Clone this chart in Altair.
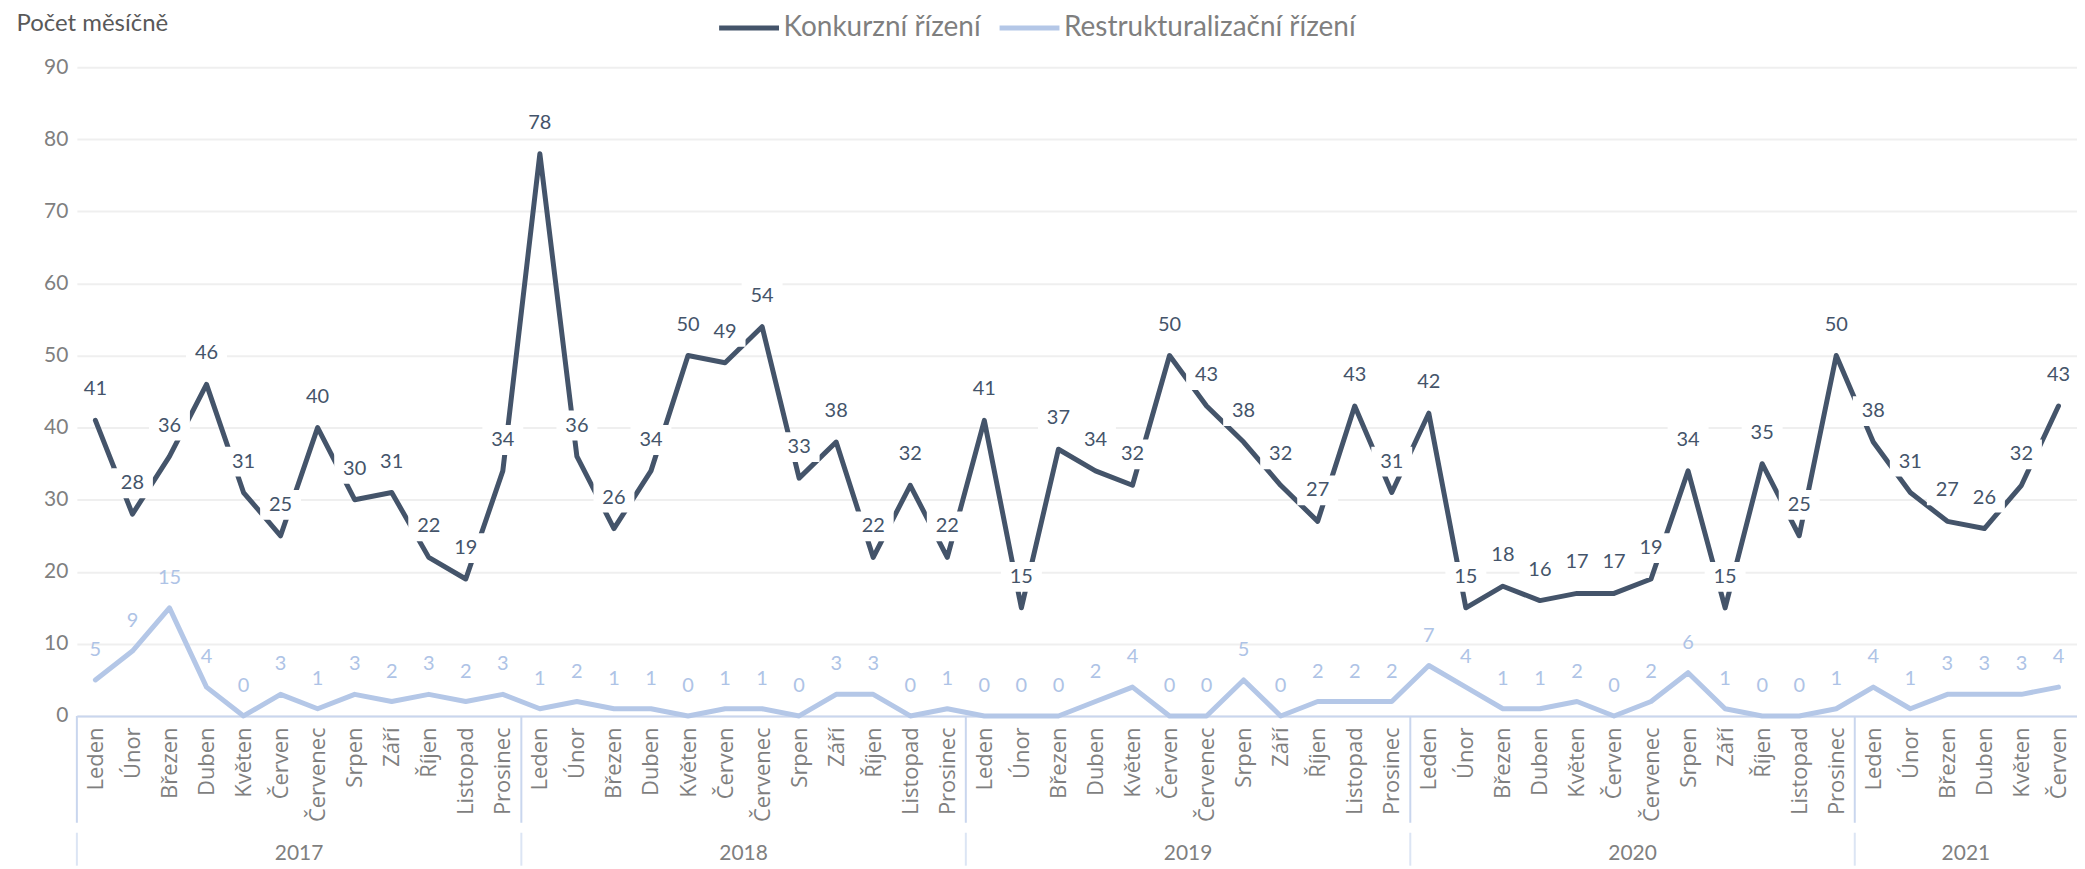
import altair as alt
import pandas as pd

months = ["Leden", "Únor", "Březen", "Duben", "Květen", "Červen",
          "Červenec", "Srpen", "Září", "Říjen", "Listopad", "Prosinec"]
years = [2017, 2018, 2019, 2020, 2021]
months_per_year = [12, 12, 12, 12, 6]

konkurz = [41, 28, 36, 46, 31, 25, 40, 30, 31, 22, 19, 34,
           78, 36, 26, 34, 50, 49, 54, 33, 38, 22, 32, 22,
           41, 15, 37, 34, 32, 50, 43, 38, 32, 27, 43, 31,
           42, 15, 18, 16, 17, 17, 19, 34, 15, 35, 25, 50,
           38, 31, 27, 26, 32, 43]
restruk = [5, 9, 15, 4, 0, 3, 1, 3, 2, 3, 2, 3,
           1, 2, 1, 1, 0, 1, 1, 0, 3, 3, 0, 1,
           0, 0, 0, 2, 4, 0, 0, 5, 0, 2, 2, 2,
           7, 4, 1, 1, 2, 0, 2, 6, 1, 0, 0, 1,
           4, 1, 3, 3, 3, 4]

S1 = "Konkurzní řízení"
S2 = "Restrukturalizační řízení"
DARK = "#44546A"
LIGHT = "#B4C7E7"
GRAY = "#7F7F7F"

n = len(konkurz)
rows = []
for i in range(n):
    rows.append({"idx": i, "series": S1, "value": konkurz[i]})
    rows.append({"idx": i, "series": S2, "value": restruk[i]})
df = pd.DataFrame(rows)

# year blocks
yrows = []
bounds = []
start = 0
for y, m in zip(years, months_per_year):
    yrows.append({"year": str(y), "mid": start + (m - 1) / 2})
    bounds.append({"b": start - 0.5})
    start += m
ydf = pd.DataFrame(yrows)
bdf = pd.DataFrame(bounds)

W, H = 2004, 650

month_js = "[" + ",".join("'" + m + "'" for m in months) + "]"

xscale = alt.Scale(domain=[-0.5, n - 0.5], nice=False, zero=False)
yscale = alt.Scale(domain=[0, 90], nice=False)
cscale = alt.Scale(domain=[S1, S2], range=[DARK, LIGHT])

x_axis = alt.Axis(values=list(range(n)), labelExpr=month_js + "[datum.value % 12]",
                  labelAngle=-90, labelAlign="right", labelBaseline="middle",
                  labelPadding=11, ticks=False, grid=False, domainColor="#C9D6EE",
                  domainWidth=2, labelFont="Open Sans", labelFontSize=22,
                  labelColor=GRAY, title=None, labelOverlap=False, labelFlush=False,
                  labelBound=False)
y_axis = alt.Axis(values=list(range(0, 91, 10)), gridColor="#EFEFEF", gridWidth=2,
                  domain=False, ticks=False, labelFont="Lato", labelFontSize=21,
                  labelColor=GRAY, labelPadding=9,
                  title="Počet měsíčně", titleAngle=0, titleX=-61, titleY=-44,
                  titleAlign="left", titleBaseline="middle", titleFont="Lato",
                  titleFontSize=24, titleColor="#595959", titleFontWeight="normal")

X = alt.X("idx:Q", scale=xscale, axis=x_axis)
Y = alt.Y("value:Q", scale=yscale, axis=y_axis)

legend = alt.Legend(orient="none", legendX=641, legendY=-72, direction="horizontal",
                    title=None, symbolType="stroke", symbolSize=3600,
                    symbolStrokeWidth=5, labelFont="Lato", labelFontSize=28,
                    labelColor=GRAY, labelLimit=600, columnPadding=8,
                    labelOffset=2, padding=0)
C = alt.Color("series:N", scale=cscale, legend=legend)

base = alt.Chart(df)

light_line = base.transform_filter(alt.datum.series == S2).mark_line(
    strokeWidth=5, strokeCap="round", strokeJoin="round").encode(x=X, y=Y, color=C)
dark_line = base.transform_filter(alt.datum.series == S1).mark_line(
    strokeWidth=5, strokeCap="round", strokeJoin="round").encode(x=X, y=Y, color=C)

box_path = "M-1,-0.73L1,-0.73L1,0.73L-1,0.73Z"
dark_boxes = base.transform_filter(alt.datum.series == S1).mark_point(
    shape=box_path, filled=True, fill="white", opacity=1, size=1681,
    strokeWidth=0, yOffset=-31).encode(x=X, y=Y)
dark_labels = base.transform_filter(alt.datum.series == S1).mark_text(
    dy=-31, baseline="middle", align="center", font="Lato", fontSize=20,
    color=DARK).encode(x=X, y=Y, text="value:Q")
light_labels = base.transform_filter(alt.datum.series == S2).mark_text(
    dy=-30, baseline="middle", align="center", font="Lato", fontSize=20,
    color="#AEC3E6").encode(x=X, y=Y, text="value:Q")

XY = alt.X("mid:Q", scale=xscale, axis=x_axis)
XB = alt.X("b:Q", scale=xscale, axis=x_axis)

year_text = alt.Chart(ydf).mark_text(font="Lato", fontSize=21, color=GRAY,
                                     baseline="middle", align="center").encode(
    x=XY, y=alt.value(788), text="year:N")
sep1 = alt.Chart(bdf).mark_rule(color="#C9D6EE", strokeWidth=2).encode(
    x=XB, y=alt.value(H), y2=alt.value(757))
sep2 = alt.Chart(bdf).mark_rule(color="#DCE5F4", strokeWidth=2).encode(
    x=XB, y=alt.value(767), y2=alt.value(800))

chart = alt.layer(
    light_line, light_labels, dark_line, dark_boxes, dark_labels,
    sep1, sep2, year_text
).properties(
    width=W, height=H,
    autosize=alt.AutoSizeParams(type="none"),
    padding={"left": 69, "top": 58.5, "right": 0, "bottom": 150},
).configure_view(stroke=None).resolve_scale(color="shared")

chart.save("out.html", embed_options={"renderer": "svg", "actions": False})
